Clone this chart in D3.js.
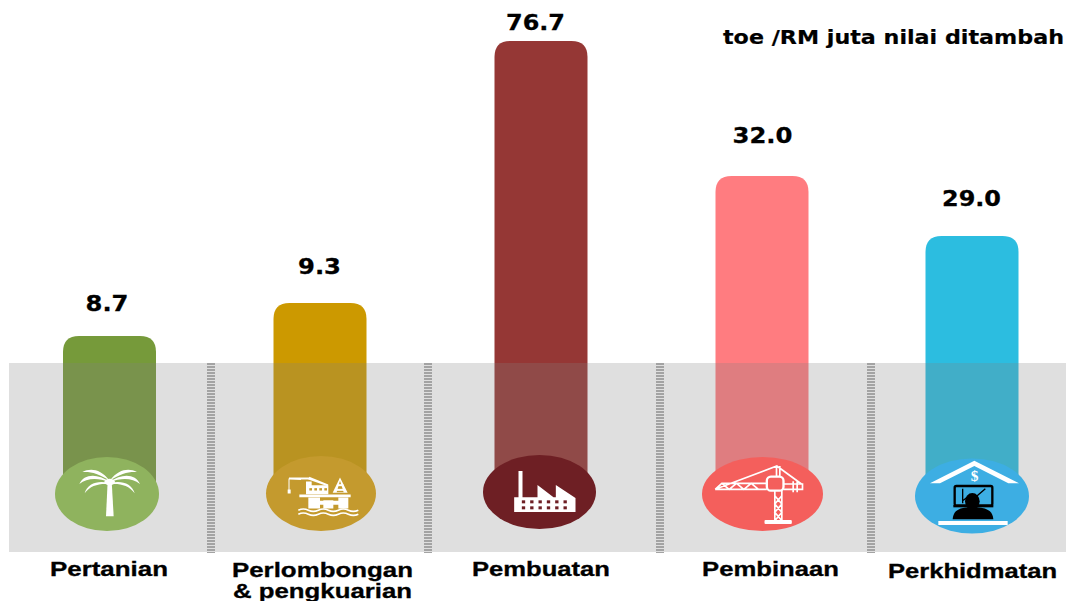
<!DOCTYPE html>
<html><head><meta charset="utf-8">
<script src="https://cdn.jsdelivr.net/npm/d3@7/dist/d3.min.js"></script>
<style>html,body{margin:0;padding:0;background:#fff;overflow:hidden}svg{display:block}</style>
</head><body><svg id="c" width="1066" height="601"></svg>
<script>
const categories = ["Pertanian","Perlombongan","Pembuatan","Pembinaan","Perkhidmatan"];
const categoryLines = [["Pertanian"],["Perlombongan","& pengkuarian"],["Pembuatan"],["Pembinaan"],["Perkhidmatan"]];
const values = [8.7,9.3,76.7,32.0,29.0];
const valueLabels = ["8.7","9.3","76.7","32.0","29.0"];
const barColors = ["#769a3a","#cc9900","#953735","#ff7c80","#2cbde0"];
const discColors = ["#8fb35e","#c49a2e","#6e1f24","#f45f5c","#3daee3"];
const unitLabel = "toe /RM juta nilai ditambah";

// layout, separate from the data
const W=1066,H=601;
const svg=d3.select("#c");
const barBottom=490, barW=93, rad=16;
const xBar=d3.scaleOrdinal(categories,[109.5,320,541,762,972]);
// The picture's bars are not to a linear scale, so the scale is calibrated piecewise
const y=d3.scaleLinear().domain([0,8.7,9.3,29,32,76.7]).range([barBottom,336,303,236,176,41]);
const xLabel=d3.scaleOrdinal(categories,[107,319.5,535.5,762.5,971.5]);
const yLabel=d3.scaleOrdinal(categories,[311,274,30,143,206]);
const labelW=d3.scaleOrdinal(categories,[43,43,59,60,59]);
const disc=d3.scaleOrdinal(categories,[[107,494,52,37],[321,493.5,55,37.5],[539.5,492,56.5,37],[762.5,494,60.5,37],[972,496,57,37.5]]);
const catPos=d3.scaleOrdinal(categories,[[[50,576,118]],[[232,577,181],[233,598,179]],[[472,576,138]],[[702,576,137]],[[888,578,169]]]);
const seps=[211,428,660,871];

const barPath=d=>{const x=xBar(d.c)-barW/2,t=y(d.v);
  return `M${x},${barBottom}V${t+rad}Q${x},${t} ${x+rad},${t}H${x+barW-rad}Q${x+barW},${t} ${x+barW},${t+rad}V${barBottom}Z`;};
const rows=categories.map((c,i)=>({c,i,v:values[i]}));

svg.append("g").selectAll("path").data(rows).join("path").attr("d",barPath).attr("fill",d=>barColors[d.i]);
svg.append("rect").attr("x",9).attr("y",363).attr("width",W-9).attr("height",189).attr("fill","#818181").attr("fill-opacity",0.255);
svg.append("g").selectAll("line").data(seps).join("line")
  .attr("x1",d=>d).attr("x2",d=>d).attr("y1",363).attr("y2",553)
  .attr("stroke","#a3a3a3").attr("stroke-width",8).attr("stroke-dasharray","2 1");
svg.append("g").selectAll("ellipse").data(rows).join("ellipse")
  .attr("cx",d=>disc(d.c)[0]).attr("cy",d=>disc(d.c)[1]).attr("rx",d=>disc(d.c)[2]).attr("ry",d=>disc(d.c)[3])
  .attr("fill",d=>discColors[d.i]);

// Icons, in 3x units about each disc centre
const icon=i=>{const d=disc(categories[i]);return svg.append("g").attr("transform",`translate(${d[0]},${d[1]}) scale(${1/3})`).attr("fill","#fff");};
// palm
{const g=icon(0);
 g.append("path").attr("d","M2,-38H14L20,67H-3Z");
 const fr=["M8,-40C-20,-76 -50,-78 -74,-66C-50,-68 -25,-62 8,-40Z","M8,-36C-30,-64 -70,-60 -83,-30C-60,-48 -30,-50 8,-36Z","M5,-33C-25,-42 -60,-32 -67,-2C-50,-26 -25,-32 5,-30Z"];
 fr.forEach(p=>{g.append("path").attr("d",p);g.append("path").attr("d",p).attr("transform","translate(16,0) scale(-1,1)");});
 g.append("ellipse").attr("cx",8).attr("cy",-36).attr("rx",16).attr("ry",10);
}
// oil rig
{const g=icon(1);
 g.append("path").attr("d","M-65,3H89V11H-65Z");
 g.append("path").attr("d","M-38,12H-3V45H-38ZM7,20H37V45H7ZM52,12H82V45H52ZM-38,22H82V34H-38Z");
 g.append("path").attr("d","M-45,-36H-28V-25H22V2H-45Z");
 [-35,-20,-5,10].forEach(x=>g.append("rect").attr("x",x).attr("y",-16).attr("width",8).attr("height",7).attr("fill","#c49a2e"));
 g.append("path").attr("d","M-96,-48H-35V-42H-96Z");
 g.append("path").attr("d","M-35,-50L22,-27L20,-22L-38,-42Z");
 g.append("path").attr("d","M-96,-45V-2M-96,-45L-60,-42").attr("stroke","#fff").attr("stroke-width",3).attr("fill","none");
 g.append("path").attr("d","M-100,-12h9v12h-9z");
 g.append("path").attr("d","M57,-48L35,-2H80Z");
 g.append("path").attr("d","M57,-38L47,-4H68Z").attr("fill","#c49a2e");
 g.append("rect").attr("x",48).attr("y",-28).attr("width",19).attr("height",6);
 g.append("rect").attr("x",44).attr("y",-14).attr("width",27).attr("height",6);
 g.append("path").attr("d","M-68,50q15,-7 30,0t30,0t30,0t30,0t30,0t30,0M-68,62q15,-7 30,0t30,0t30,0t30,0t30,0t30,0").attr("stroke","#fff").attr("stroke-width",5).attr("fill","none");
}
// factory
{const g=icon(2);
 g.append("path").attr("d","M-63,-63H-51V16H-6V-21L42,16H49V-21L108,18V60H-76V16H-63Z");
 [0,1].forEach(r=>d3.range(6).forEach(k=>g.append("rect").attr("x",-53+k*25).attr("y",25+r*18).attr("width",10).attr("height",9).attr("fill","#6e1f24")));
}
// tower crane
{const g=icon(3);
 g.append("rect").attr("x",6).attr("y",78).attr("width",82).attr("height",12).attr("rx",3);
 g.append("path").attr("d","M37,-12V80M58,-12V80M37,5L58,30L37,55L58,80M58,5L37,30L58,55L37,80M-142,-14L43,-84L117,-30M-142,-14H13M-142,-14L-122,-32H13M-122,-32L-100,-14L-78,-32L-56,-14L-34,-32L-12,-14M42,-84V-50M52,-84V-50M62,-30H120V-14H62M92,-38V-5M104,-38V-5")
   .attr("fill","none").attr("stroke","#fff").attr("stroke-width",5);
 g.append("rect").attr("x",13).attr("y",-52).attr("width",50).attr("height",42).attr("rx",12).attr("fill","#f45f5c").attr("stroke","#fff").attr("stroke-width",7);
}
// service
{const g=icon(4);
 g.append("path").attr("d","M-126,-38L7,-106L141,-38H109L7,-90L-96,-38Z");
 g.append("rect").attr("x",-101).attr("y",75).attr("width",208).attr("height",12);
 g.append("text").attr("x",8).attr("y",-46).attr("text-anchor","middle").attr("font-family","'Liberation Serif',serif").attr("font-weight",700).attr("font-size",46).text("$");
 g.append("rect").attr("x",-52).attr("y",-30).attr("width",113).attr("height",58).attr("rx",5).attr("fill","none").attr("stroke","#000").attr("stroke-width",7);
 g.append("rect").attr("x",-56).attr("y",27).attr("width",120).attr("height",7).attr("fill","#000");
 g.append("path").attr("d","M-28,-22V22M-28,14L-5,-3L12,2L40,-22").attr("fill","none").attr("stroke","#000").attr("stroke-width",4);
 g.append("ellipse").attr("cx",1).attr("cy",16).attr("rx",22).attr("ry",25).attr("fill","#000");
 g.append("path").attr("d","M-58,70C-56,38 -30,34 1,34C34,34 62,38 64,70Z").attr("fill","#000");
}

// texts
svg.append("g").selectAll("text").data(rows).join("text")
  .attr("x",d=>xLabel(d.c)).attr("y",d=>yLabel(d.c)).attr("text-anchor","middle")
  .attr("font-family","'DejaVu Sans',sans-serif").attr("font-weight",700).attr("font-size",22).attr("fill","#000")
  .attr("stroke","#000").attr("stroke-width",0.3)
  .attr("textLength",d=>labelW(d.c)).attr("lengthAdjust","spacingAndGlyphs")
  .text(d=>valueLabels[d.i]);
svg.append("text").attr("x",723).attr("y",44)
  .attr("font-family","'DejaVu Sans',sans-serif").attr("font-weight",700).attr("font-size",20).attr("fill","#000")
  .attr("stroke","#000").attr("stroke-width",0.2)
  .attr("textLength",341).attr("lengthAdjust","spacingAndGlyphs").text(unitLabel);
rows.forEach(d=>categoryLines[d.i].forEach((t,j)=>{const p=catPos(d.c)[j];
  svg.append("text").attr("x",p[0]).attr("y",p[1])
   .attr("font-family","'Liberation Sans',Arial,sans-serif").attr("font-weight",700).attr("font-size",19.5).attr("fill","#000")
   .attr("stroke","#000").attr("stroke-width",0.3)
   .attr("textLength",p[2]).attr("lengthAdjust","spacingAndGlyphs").text(t);}));
</script></body></html>
